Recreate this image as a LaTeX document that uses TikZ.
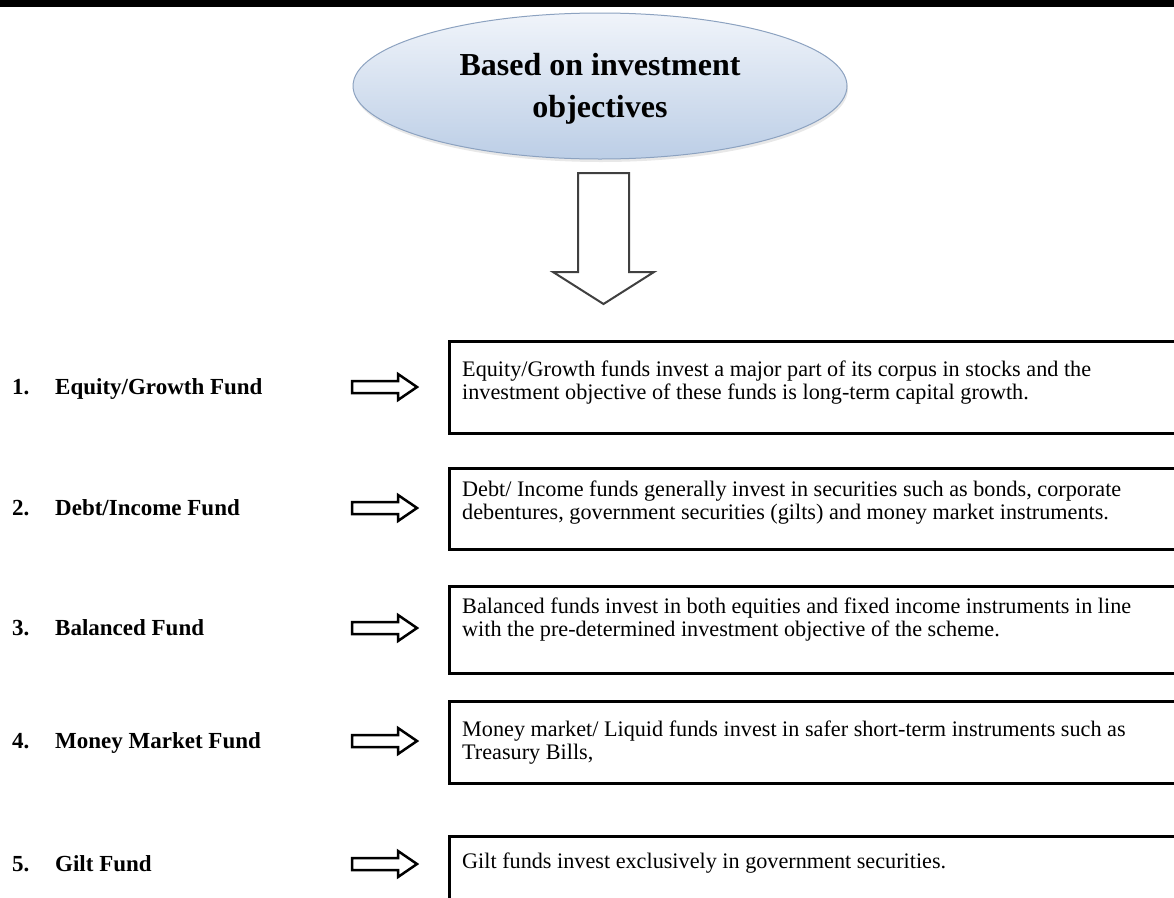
\documentclass[tikz,border=0pt]{standalone}
\usepackage{fontspec}
\setmainfont{Liberation Serif}
\usetikzlibrary{shapes.geometric,shadows}
\definecolor{elltop}{RGB}{240,244,250}
\definecolor{ellbot}{RGB}{188,206,230}
\definecolor{elldraw}{RGB}{140,162,192}
\begin{document}
\begin{tikzpicture}[x=1pt,y=-1pt,
  fundbox/.style={draw=black, line width=3pt, anchor=north west, minimum width=800pt, inner sep=0pt},
  boxtext/.style={anchor=north west, inner sep=0pt, align=left, font=\fontsize{22.2}{23}\selectfont},
  fundlbl/.style={anchor=base west, inner sep=0pt, font=\fontsize{23}{27}\selectfont\bfseries},
  titletxt/.style={anchor=base, inner sep=0pt, font=\fontsize{32}{40}\selectfont\bfseries},
  fatarrow/.style={draw=black, line width=2.5pt, fill=white, line join=miter}
]
\clip (0,0) rectangle (1174,897);
\fill[white] (0,0) rectangle (1174,897);
% top band
\fill[black] (0,0) rectangle (1174,7);

% title ellipse
\node[ellipse, minimum width=494pt, minimum height=146pt, draw=elldraw, line width=1pt,
      top color=elltop, bottom color=ellbot,
      drop shadow={opacity=0.18, shadow xshift=1pt, shadow yshift=-3pt}] (title) at (600,86) {};
\node[titletxt] (title1) at (600,75) {Based on investment};
\node[titletxt] (title2) at (600,117) {objectives};

% big down arrow
\draw[draw=black!75, line width=2pt, fill=white, line join=miter]
  (578,173) -- (629,173) -- (629,272) -- (654,272) -- (603.5,304) -- (553,272) -- (578,272) -- cycle;

% boxes
\node[fundbox, minimum height=92pt] (b1) at (448,340) {};
\node[fundbox, minimum height=81pt] (b2) at (448,467) {};
\node[fundbox, minimum height=87pt] (b3) at (448,585) {};
\node[fundbox, minimum height=82pt] (b4) at (448,700) {};
\node[fundbox, minimum height=100pt] (b5) at (448,835) {};

\node[boxtext] (t1) at (462,360.5) {Equity/Growth funds invest a major part of its corpus in stocks and the\\investment objective of these funds is long-term capital growth.};
\node[boxtext] (t2) at (462,480.5) {Debt/ Income funds generally invest in securities such as bonds, corporate\\debentures, government securities (gilts) and money market instruments.};
\node[boxtext] (t3) at (462,597.5) {Balanced funds invest in both equities and fixed income instruments in line\\with the pre-determined investment objective of the scheme.};
\node[boxtext] (t4) at (462,720.5) {Money market/ Liquid funds invest in safer short-term instruments such as\\Treasury Bills,};
\node[boxtext] (t5) at (462,852.5) {Gilt funds invest exclusively in government securities.};

% labels
\foreach \n/\txt/\yb in {1/Equity\slash Growth Fund/394, 2/Debt\slash Income Fund/515, 3/Balanced Fund/635, 4/Money Market Fund/748, 5/Gilt Fund/871}{
  \node[fundlbl] (n\n) at (12,\yb) {\n.};
  \node[fundlbl] (l\n) at (55,\yb) {\txt};
}

% small arrows
\foreach \k/\yc in {1/387, 2/508, 3/628, 4/741, 5/864}{
  \coordinate (a\k) at (352,\yc);
  \draw[fatarrow] (a\k) ++(0,-6) -- ++(46,0) -- ++(0,-7) -- ++(19,13) -- ++(-19,13) -- ++(0,-7) -- ++(-46,0) -- cycle;
}
\end{tikzpicture}
\end{document}
